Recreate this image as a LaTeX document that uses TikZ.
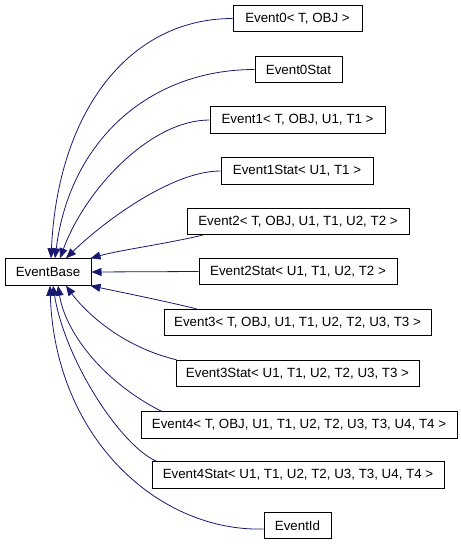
\documentclass[tikz,border=0pt]{standalone}
\usepackage{fontspec}
\setmainfont{Liberation Sans}
\usetikzlibrary{arrows.meta,calc}
\definecolor{edgeblue}{HTML}{191970}
\begin{document}
\begin{tikzpicture}[x=0.75pt,y=-0.75pt,
  cls/.style={draw=black,line width=0.75pt,inner sep=0pt,minimum height=19.8pt,
    font=\fontsize{10}{12}\selectfont,fill=white},
  edge/.style={draw=edgeblue,line width=0.6pt,-{Triangle[length=7.5pt,width=6pt]}}]
\useasboundingbox (0,0) rectangle (461,544);
\node[cls,minimum width=64.5pt] (base) at (48,272) {EventBase};
\node[cls,minimum width=96.75pt] (e0) at (297.5,18.5) {Event0< T, OBJ >};
\node[cls,minimum width=65.25pt] (e0s) at (298.5,69.5) {Event0Stat};
\node[cls,minimum width=131.25pt] (e1) at (297.5,120) {Event1< T, OBJ, U1, T1 >};
\node[cls,minimum width=114pt] (e1s) at (297,171) {Event1Stat< U1, T1 >};
\node[cls,minimum width=166.5pt] (e2) at (298,221.5) {Event2< T, OBJ, U1, T1, U2, T2 >};
\node[cls,minimum width=148.5pt] (e2s) at (298,271.5) {Event2Stat< U1, T1, U2, T2 >};
\node[cls,minimum width=200.25pt] (e3) at (297.5,322.5) {Event3< T, OBJ, U1, T1, U2, T2, U3, T3 >};
\node[cls,minimum width=182.25pt] (e3s) at (297.5,373.5) {Event3Stat< U1, T1, U2, T2, U3, T3 >};
\node[cls,minimum width=237pt] (e4) at (299,425) {Event4< T, OBJ, U1, T1, U2, T2, U3, T3, U4, T4 >};
\node[cls,minimum width=219pt] (e4s) at (298,475) {Event4Stat< U1, T1, U2, T2, U3, T3, U4, T4 >};
\node[cls,minimum width=50.25pt] (eid) at (297.5,525.5) {EventId};

\draw[edge] (e0.west) .. controls (130,18.5) and (58,110) .. ($(base.north)+(3,0)$);
\draw[edge] (e0s.west) .. controls (150,69.5) and (70,140) .. ($(base.north)+(7,0)$);
\draw[edge] (e1.west) .. controls (150,120) and (85,190) .. ($(base.north)+(12,0)$);
\draw[edge] (e1s.west) .. controls (170,171) and (100,225) .. ($(base.north)+(18,0)$);
\draw[edge] ($(e2.south west)+(16,0)$) .. controls (160,245) and (120,250) .. ($(base.north east)+(-1,0)$);
\draw[edge] (e2s.west) -- (base.east);
\draw[edge] ($(e3.north west)+(33,0)$) .. controls (160,300) and (120,292) .. ($(base.south east)+(-1,0)$);
\draw[edge] ($(e3s.north west)+(1,0)$) .. controls (115,345) and (80,305) .. ($(base.south)+(18,0)$);
\draw[edge] ($(e4.north west)+(21,0)$) .. controls (100,380) and (65,330) .. ($(base.south)+(10,0)$);
\draw[edge] ($(e4s.north west)+(5,0)$) .. controls (120,445) and (65,360) .. ($(base.south)+(5,0)$);
\draw[edge] ($(eid.west)+(0,3.5)$) .. controls (160,532) and (55,440) .. ($(base.south)+(2,0)$);
\end{tikzpicture}
\end{document}
